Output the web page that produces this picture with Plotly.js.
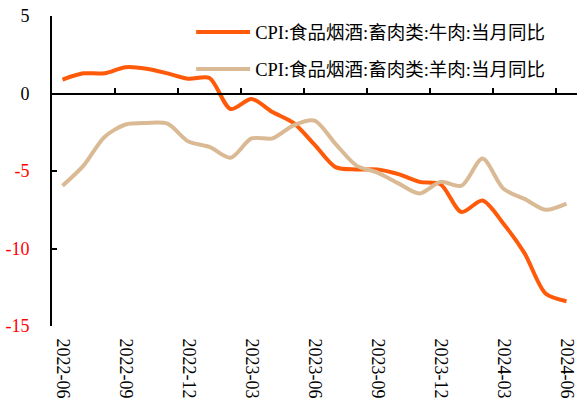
<!DOCTYPE html>
<html>
<head>
<meta charset="utf-8">
<script src="https://cdn.plot.ly/plotly-3.0.1.min.js"></script>
<style>html,body{margin:0;padding:0;background:#fff;}#chart{width:580px;height:401px;}</style>
</head>
<body>
<div id="chart"></div>
<script>
var months = ["2022-06","2022-07","2022-08","2022-09","2022-10","2022-11","2022-12",
  "2023-01","2023-02","2023-03","2023-04","2023-05","2023-06","2023-07","2023-08","2023-09",
  "2023-10","2023-11","2023-12","2024-01","2024-02","2024-03","2024-04","2024-05","2024-06"];
var beef = [0.9, 1.3, 1.3, 1.7, 1.6, 1.3, 0.95, 1.0, -1.0, -0.35, -1.2, -1.9, -3.3, -4.75, -4.9, -4.9, -5.2, -5.7, -5.85, -7.65, -6.9, -8.4, -10.3, -12.9, -13.4];
var mutton = [-5.95, -4.65, -2.8, -2.0, -1.9, -1.95, -3.1, -3.45, -4.15, -2.9, -2.9, -2.05, -1.75, -3.25, -4.65, -5.1, -5.8, -6.45, -5.7, -5.95, -4.2, -6.15, -6.8, -7.5, -7.1];
var names = ["CPI:食品烟酒:畜肉类:牛肉:当月同比", "CPI:食品烟酒:畜肉类:羊肉:当月同比"];
var yTicks = [5, 0, -5, -10, -15];

var idx = months.map(function(m, i){ return i; });
var labelIdx = idx.filter(function(i){ return i % 3 === 0; });
var sepTicks = labelIdx.slice(1).map(function(i){ return i - 0.5; });
var yText = yTicks.map(function(v){ return v < 0 ? '<span style="color:#FF0000">' + v + '</span>' : String(v); });

var FONT = "'Liberation Serif', 'Times New Roman', 'Noto Sans CJK SC', serif";
var traces = [
  {x: idx, y: beef, name: names[0], type: 'scatter', mode: 'lines', xaxis: 'x', yaxis: 'y',
   legendgroup: 'a', line: {color: '#FF5A0A', width: 4, shape: 'spline', smoothing: 0.8}, hoverinfo: 'skip'},
  {x: idx, y: mutton, name: names[1], type: 'scatter', mode: 'lines', xaxis: 'x2', yaxis: 'y',
   legendgroup: 'b', line: {color: '#D9BA94', width: 4, shape: 'spline', smoothing: 0.8}, hoverinfo: 'skip'},
  {x: [], y: [], xaxis: 'x', yaxis: 'y2', type: 'scatter', mode: 'lines', showlegend: false, hoverinfo: 'skip'}
];
var xr = [-0.5, months.length - 0.5];
var layout = {
  width: 580, height: 401,
  margin: {l: 52, r: 3, t: 16, b: 75},
  paper_bgcolor: '#fff', plot_bgcolor: '#fff',
  font: {family: FONT, size: 18, color: '#000'},
  showlegend: true,
  legend: {x: 0.265, y: 1.008, xanchor: 'left', yanchor: 'top', bgcolor: 'rgba(0,0,0,0)',
           traceorder: 'grouped', tracegroupgap: 10, itemwidth: 54,
           font: {family: FONT, size: 18.5, color: '#000'}},
  xaxis: {range: xr, tickmode: 'array', tickvals: labelIdx, ticktext: labelIdx.map(function(i){ return months[i]; }),
          tickangle: 90, ticks: 'outside', ticklen: 8, tickcolor: 'rgba(0,0,0,0)', showline: false, showgrid: false, zeroline: false,
          tickfont: {family: FONT, size: 18, color: '#000'}},
  xaxis2: {range: xr, overlaying: 'x', anchor: 'free', position: 0.75, side: 'bottom',
           showline: true, linecolor: '#000', linewidth: 2,
           tickmode: 'array', tickvals: sepTicks, ticks: 'inside', ticklen: 5, tickwidth: 2, tickcolor: '#000',
           showticklabels: false, showgrid: false, zeroline: false},
  yaxis: {range: [-15, 5], tickmode: 'array', tickvals: yTicks, showticklabels: false,
          showline: true, linecolor: '#000', linewidth: 2, ticks: 'inside', ticklen: 5, tickwidth: 2, tickcolor: '#000',
          showgrid: false, zeroline: false},
  yaxis2: {range: [-15, 5], overlaying: 'y', side: 'left', tickmode: 'array', tickvals: yTicks, ticktext: yText,
          ticks: 'outside', ticklen: 18, tickcolor: 'rgba(0,0,0,0)', showline: false, showgrid: false, zeroline: false,
          tickfont: {family: FONT, size: 18, color: '#000'}}
};
Plotly.newPlot('chart', traces, layout, {displayModeBar: false, staticPlot: true});
</script>
</body>
</html>
